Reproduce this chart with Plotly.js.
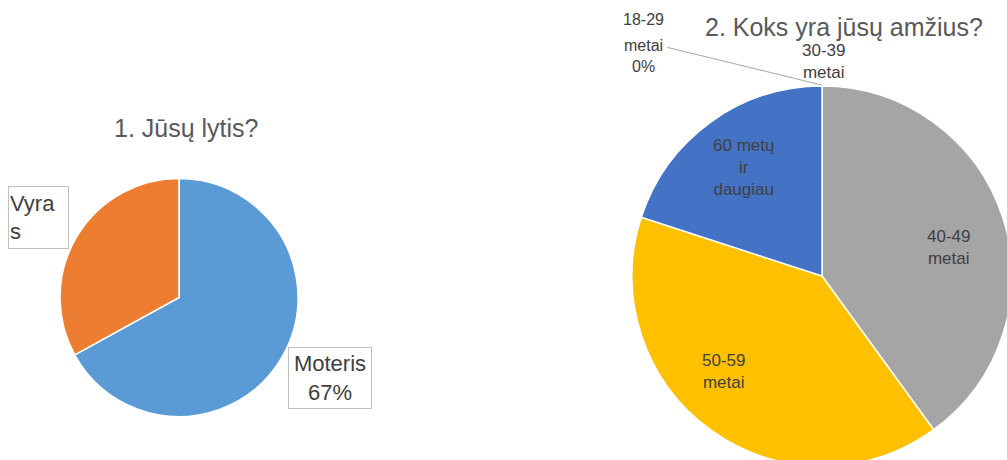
<!DOCTYPE html>
<html>
<head>
<meta charset="utf-8">
<script src="https://cdn.plot.ly/plotly-3.0.1.min.js"></script>
<style>
html,body{margin:0;padding:0;overflow:hidden;background:#fff;width:1007px;height:460px;}
#chart{width:1020px;height:470px;}
</style>
</head>
<body>
<div id="chart"></div>
<script>
// Chart 1: gender
const genderLabels = ["Moteris", "Vyras"];
const genderValues = [67, 33];
const genderColors = ["#5B9BD5", "#ED7D31"];
const genderTitle = "1. Jūsų lytis?";

// Chart 2: age
const ageLabels = ["18-29 metai", "30-39 metai", "40-49 metai", "50-59 metai", "60 metų ir daugiau"];
const ageValues = [0, 0, 40, 40, 20];
const ageColors = ["#5B9BD5", "#ED7D31", "#A5A5A5", "#FFC000", "#4472C4"];
const ageTitle = "2. Koks yra jūsų amžius?";

const W = 1020, H = 470;
const px = x => x / W;
const py = y => 1 - y / H;
const FONT = "Liberation Sans, Arial, sans-serif";
const TXT = "#404040";

const traces = [
  {
    type: "pie",
    labels: genderLabels,
    values: genderValues,
    sort: false,
    direction: "clockwise",
    rotation: 0,
    marker: {colors: genderColors, line: {color: "#ffffff", width: 1.5}},
    textinfo: "none",
    hoverinfo: "label+percent",
    showlegend: false,
    domain: {x: [px(60), px(298)], y: [py(416.5), py(178.5)]}
  },
  {
    type: "pie",
    labels: ageLabels,
    values: ageValues,
    sort: false,
    direction: "clockwise",
    rotation: 0,
    marker: {colors: ageColors, line: {color: "#ffffff", width: 1.5}},
    textinfo: "none",
    hoverinfo: "label+percent",
    showlegend: false,
    domain: {x: [px(632), px(1012)], y: [py(466), py(86)]}
  }
];

const pct = (vals, i) => Math.round(100 * vals[i] / vals.reduce((a, b) => a + b, 0)) + "%";

const annotations = [
  {text: genderTitle, x: px(186), y: py(128), font: {size: 25, color: "#595959", family: FONT}},
  {text: ageTitle, x: px(844), y: py(27), font: {size: 25, color: "#595959", family: FONT}},
  // gender labels in boxes
  {text: "Vyra<br>s", x: px(38.8), y: py(217.5), align: "left", width: 57, height: 59,
   bordercolor: "#BFBFBF", borderwidth: 1, borderpad: 1, font: {size: 22, color: TXT, family: FONT}},
  {text: genderLabels[0] + "<br>" + pct(genderValues, 0), x: px(330), y: py(378), align: "center",
   width: 80, height: 58, bordercolor: "#BFBFBF", borderwidth: 1, borderpad: 1,
   font: {size: 22, color: TXT, family: FONT}},
  // age outside labels
  {text: "18-29", x: px(643), y: py(19), font: {size: 16, color: TXT, family: FONT}},
  {text: "metai<br>" + pct(ageValues, 0), x: px(643), y: py(56), font: {size: 16, color: TXT, family: FONT}},
  {text: "30-39<br>metai", x: px(823), y: py(62), font: {size: 17, color: TXT, family: FONT}},
  // age inside labels
  {text: "40-49<br>metai", x: px(948), y: py(247), font: {size: 17, color: TXT, family: FONT}},
  {text: "50-59<br>metai", x: px(723), y: py(371), font: {size: 17, color: TXT, family: FONT}},
  {text: "60 metų<br>ir<br>daugiau", x: px(743), y: py(167), font: {size: 17, color: TXT, family: FONT}}
].map(a => Object.assign({xref: "paper", yref: "paper", showarrow: false, xanchor: "center", yanchor: "middle"}, a));

const layout = {
  width: W, height: H,
  margin: {l: 0, r: 0, t: 0, b: 0},
  paper_bgcolor: "#ffffff",
  showlegend: false,
  font: {family: FONT, color: TXT},
  annotations: annotations,
  shapes: [
    {type: "line", xref: "paper", yref: "paper", x0: px(667), y0: py(47.3), x1: px(821.7), y1: py(85),
     line: {color: "#A6A6A6", width: 1}}
  ]
};

Plotly.newPlot("chart", traces, layout, {staticPlot: true, displayModeBar: false});
</script>
</body>
</html>
